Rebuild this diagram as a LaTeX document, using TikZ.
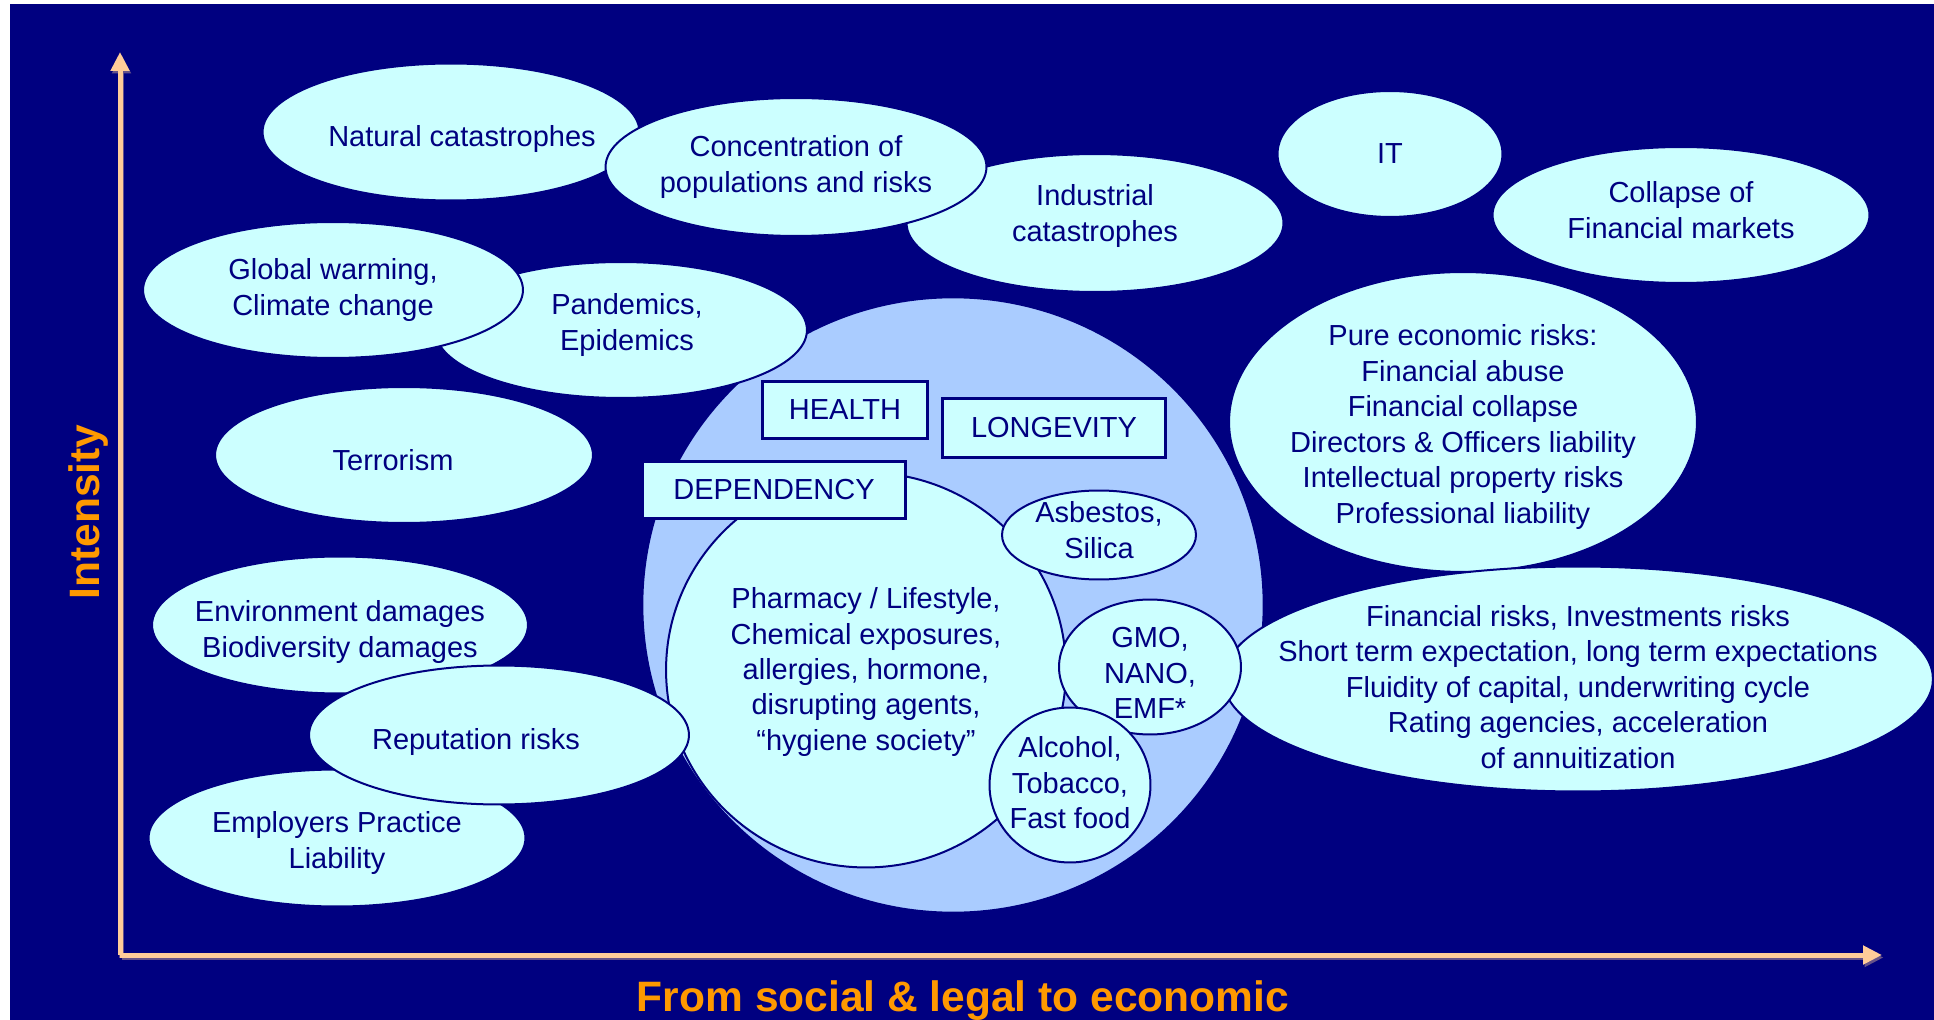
\documentclass[tikz,border=0pt]{standalone}
\usepackage{fontspec}
\setmainfont{Liberation Sans}
\usetikzlibrary{positioning, arrows.meta, shapes.geometric}
\definecolor{navy}{HTML}{000080}
\definecolor{ice}{HTML}{CCFFFF}
\definecolor{sky}{HTML}{AACCFF}
\definecolor{peach}{HTML}{FFCC99}
\definecolor{tangerine}{HTML}{FF9900}

\begin{document}
\begin{tikzpicture}[x=0.02cm, y=-0.02cm,
    bubble/.style={ellipse, draw=navy, line width=0.04cm, fill=ice, inner sep=0pt},
    txt/.style={text=navy, align=center, font=\fontsize{16.5}{20.2}\selectfont},
    tag/.style={rectangle, draw=navy, line width=0.06cm, fill=ice, text=navy,
      font=\fontsize{16.5}{20.2}\selectfont, inner sep=0pt},
    axis/.style={-{Triangle[length=0.38cm, width=0.36cm]}, peach, line width=0.1cm},
    axshadow/.style={axis, peach!40!navy, transform canvas={xshift=0.03cm, yshift=-0.05cm}},
    axlabel/.style={tangerine, font=\fontsize{24.2}{29}\selectfont\bfseries}]
  \useasboundingbox (0,0) rectangle (1934,1020);
  \fill[navy] (10,4) rectangle (1934,1020);

  % big health circle behind the health risks
  \node[ellipse, fill=sky, draw=navy, line width=0.03cm, inner sep=0pt,
    minimum width=12.42cm, minimum height=12.3cm] (health) at (953,605) {};

  % top row
  \node[bubble, minimum width=7.54cm, minimum height=2.74cm,
    label={[txt, xshift=0.22cm, yshift=-0.14cm]center:Natural catastrophes}] (natcat) at (451,132) {};
  \node[bubble, minimum width=7.54cm, minimum height=2.76cm,
    label={[txt, yshift=0.14cm]center:{Industrial\\catastrophes}}] (industrial) at (1095,223) {};
  \node[bubble, minimum width=7.62cm, minimum height=2.76cm,
    label={[txt]center:{Concentration of\\populations and risks}}] (concentration) at (796,167) {};
  \node[bubble, minimum width=4.5cm, minimum height=2.52cm,
    label={[txt]center:IT}] (it) at (1390,154) {};
  \node[bubble, minimum width=7.54cm, minimum height=2.72cm,
    label={[txt, yshift=0.1cm]center:{Collapse of\\Financial markets}}] (collapse) at (1681,215) {};

  % left column
  \node[bubble, minimum width=7.44cm, minimum height=2.72cm,
    label={[txt, xshift=0.12cm, yshift=0.1cm]center:{Pandemics,\\Epidemics}}] (pandemics) at (621,330) {};
  \node[bubble, minimum width=7.6cm, minimum height=2.72cm,
    label={[txt]center:{Global warming,\\Climate change}}] (warming) at (333,290) {};
  \node[bubble, minimum width=7.56cm, minimum height=2.72cm,
    label={[txt, xshift=-0.22cm, yshift=-0.1cm]center:Terrorism}] (terrorism) at (404,455) {};
  \node[bubble, minimum width=7.52cm, minimum height=2.74cm,
    label={[txt, yshift=-0.14cm]center:{Environment damages\\Biodiversity damages}}] (environment) at (340,625) {};
  \node[bubble, minimum width=7.54cm, minimum height=2.74cm,
    label={[txt, yshift=-0.1cm]center:{Employers Practice\\Liability}}] (employers) at (337,838) {};

  % economic side
  \node[bubble, minimum width=9.36cm, minimum height=6.0cm,
    label={[txt, yshift=-0.1cm]center:{Pure economic risks:\\Financial abuse\\Financial collapse\\Directors \& Officers liability\\Intellectual property risks\\Professional liability}}]
    (pureeco) at (1463,422) {};
  \node[bubble, minimum width=14.2cm, minimum height=4.5cm,
    label={[txt, yshift=-0.16cm]center:{Financial risks, Investments risks\\Short term expectation, long term expectations\\Fluidity of capital, underwriting cycle\\Rating agencies, acceleration\\of annuitization}}]
    (finrisk) at (1578,679) {};

  % inside the health circle
  \node[bubble, minimum width=8.0cm, minimum height=7.9cm,
    label={[txt, yshift=-0.04cm]center:{Pharmacy / Lifestyle,\\Chemical exposures,\\allergies, hormone,\\disrupting agents,\\``hygiene society''}}]
    (pharmacy) at (866,670) {};
  \node[bubble, minimum width=3.88cm, minimum height=1.78cm,
    label={[txt, yshift=0.1cm]center:{Asbestos,\\Silica}}] (asbestos) at (1099,535) {};
  \node[bubble, minimum width=3.64cm, minimum height=2.7cm,
    label={[txt, yshift=-0.12cm]center:{GMO,\\NANO,\\EMF*}}] (gmo) at (1150,667) {};
  \node[bubble, minimum width=3.22cm, minimum height=3.1cm,
    label={[txt, yshift=0.04cm]center:{Alcohol,\\Tobacco,\\Fast food}}] (alcohol) at (1070,785) {};

  \node[tag, minimum width=3.3cm, minimum height=1.14cm] (healthtag) at (845,410) {HEALTH};
  \node[tag, minimum width=4.46cm, minimum height=1.18cm] (longevity) at (1054,428) {LONGEVITY};
  \node[tag, minimum width=5.26cm, minimum height=1.14cm] (dependency) at (774,490) {DEPENDENCY};

  \node[bubble, minimum width=7.6cm, minimum height=2.78cm,
    label={[txt, xshift=-0.46cm, yshift=-0.14cm]center:Reputation risks}] (reputation) at (499,735) {};

  % axes, with a thin shadow under them
  \coordinate (origin) at (120,955);
  \coordinate (ytip) at (120,52);
  \coordinate (xtip) at (1882,955);
  \draw[axshadow] (origin) -- (ytip);
  \draw[axshadow] (origin) -- (xtip);
  \draw[axis] (origin) -- (ytip);
  \draw[axis] (origin) -- (xtip);
  \node[axlabel, rotate=90] (intensity) at (89,512) {Intensity};
  \node[axlabel, anchor=base] (direction) at (963,1011) {From social \& legal to economic};
\end{tikzpicture}
\end{document}
